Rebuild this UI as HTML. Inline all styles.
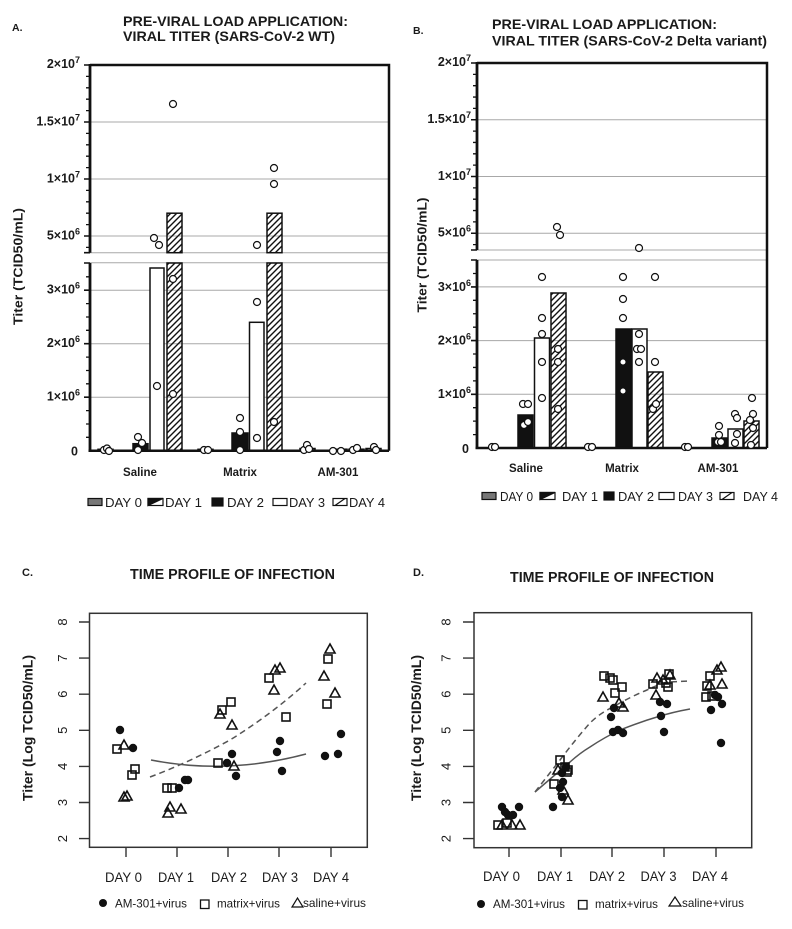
<!DOCTYPE html>
<html><head><meta charset="utf-8"><style>
html,body{margin:0;padding:0;background:#fff}
svg{display:block}
text{font-family:"Liberation Sans",Arial,sans-serif;fill:#1a1a1a}
.b{font-weight:bold}
</style></head><body>
<svg width="792" height="929" viewBox="0 0 792 929" xmlns="http://www.w3.org/2000/svg">
<defs>
<pattern id="h" patternUnits="userSpaceOnUse" width="6" height="6">
<path d="M-1,1 l2,-2 M0,6 l6,-6 M5,7 l2,-2" stroke="#111" stroke-width="1.4"/>
</pattern>
</defs>
<rect width="792" height="929" fill="#fff"/>

<!-- ================= PANEL A ================= -->
<text class="b" x="12" y="31" font-size="10.5">A.</text>
<text class="b" x="123" y="26" font-size="14" textLength="225" lengthAdjust="spacingAndGlyphs">PRE-VIRAL LOAD APPLICATION:</text>
<text class="b" x="123" y="41" font-size="14" textLength="212" lengthAdjust="spacingAndGlyphs">VIRAL TITER (SARS-CoV-2 WT)</text>

<!-- gridlines -->
<g stroke="#a8a8a8" stroke-width="1">
<path d="M90,122H389M90,179H389M90,236H389M90,252.7H389M90,262.8H389M90,397.2H389M90,343.7H389M90,290.2H389"/>
</g>
<!-- bars -->
<g stroke="#111" stroke-width="1.5">
<rect x="98" y="449.3" width="15" height="1.4" fill="#777"/>
<rect x="133" y="443.7" width="15" height="7" fill="#111"/>
<rect x="150" y="268" width="14" height="182.7" fill="#fff"/>
<rect x="167" y="213.2" width="15" height="39.5" fill="url(#h)"/>
<rect x="167" y="263" width="15" height="187.7" fill="url(#h)"/>
<rect x="198" y="449.3" width="15" height="1.4" fill="#777"/>
<rect x="232" y="433" width="16" height="17.7" fill="#111"/>
<rect x="249.5" y="322.3" width="14.5" height="128.4" fill="#fff"/>
<rect x="267" y="213.2" width="15" height="39.5" fill="url(#h)"/>
<rect x="267" y="263" width="15" height="187.7" fill="url(#h)"/>
<rect x="300" y="448.5" width="15" height="2.2" fill="#777"/>
<rect x="332" y="449.2" width="15" height="1.5" fill="#111"/>
<rect x="349" y="449.2" width="15" height="1.5" fill="#fff"/>
<rect x="366" y="448.5" width="15" height="2.2" fill="url(#h)"/>
</g>
<!-- axes -->
<g stroke="#111" fill="none">
<path d="M90,65H389V450.7" stroke-width="2.5"/>
<path d="M88.5,450.7H389" stroke-width="2.5"/>
<path d="M90,64V252.7M90,263V451" stroke-width="2.8"/>
<path d="M84,65H90M84,122H90M84,179H90M84,236H90M84,252.7H90M84,263H90M84,290.2H90M84,343.7H90M84,397.2H90" stroke-width="1.6"/>
<path d="M86,76.4H90M86,87.8H90M86,99.2H90M86,110.6H90M86,133.4H90M86,144.8H90M86,156.2H90M86,167.6H90M86,190.4H90M86,201.8H90M86,213.2H90M86,224.6H90M86,247.4H90M86,437.3H90M86,424H90M86,410.6H90M86,383.8H90M86,370.5H90M86,357.1H90M86,330.3H90M86,317H90M86,303.6H90M86,276.8H90" stroke-width="1.3"/>
</g>
<!-- tick labels -->
<g class="b" font-size="12.5" text-anchor="end" font-weight="bold">
<text x="80" y="68">2×10<tspan dy="-5" font-size="9">7</tspan></text>
<text x="80" y="125.5">1.5×10<tspan dy="-5" font-size="9">7</tspan></text>
<text x="80" y="182.5">1×10<tspan dy="-5" font-size="9">7</tspan></text>
<text x="80" y="239.5">5×10<tspan dy="-5" font-size="9">6</tspan></text>
<text x="80" y="293.5">3×10<tspan dy="-5" font-size="9">6</tspan></text>
<text x="80" y="347">2×10<tspan dy="-5" font-size="9">6</tspan></text>
<text x="80" y="400.5">1×10<tspan dy="-5" font-size="9">6</tspan></text>
<text x="78" y="455.5">0</text>
</g>
<text class="b" transform="translate(22.5,266.5) rotate(-90)" text-anchor="middle" font-size="13" textLength="117" lengthAdjust="spacingAndGlyphs">Titer (TCID50/mL)</text>
<g class="b" font-size="11.5" text-anchor="middle">
<text x="140" y="476">Saline</text>
<text x="240" y="476">Matrix</text>
<text x="338" y="476">AM-301</text>
</g>
<!-- circles -->
<g fill="#fff" stroke="#111" stroke-width="1.2">
<circle cx="104" cy="450" r="3.5"/><circle cx="107" cy="448.5" r="3.5"/><circle cx="109" cy="451" r="3.5"/>
<circle cx="138" cy="437" r="3.5"/><circle cx="142" cy="443" r="3.5"/><circle cx="138" cy="450" r="3.5"/>
<circle cx="157" cy="386" r="3.5"/><circle cx="154" cy="238" r="3.5"/><circle cx="159" cy="245" r="3.5"/>
<circle cx="173" cy="104" r="3.5"/><circle cx="173" cy="279" r="3.5"/><circle cx="173" cy="394" r="3.5"/>
<circle cx="204" cy="450" r="3.5"/><circle cx="208" cy="450" r="3.5"/>
<circle cx="240" cy="418" r="3.5"/><circle cx="240" cy="432" r="3.5"/><circle cx="240" cy="450" r="3.5"/>
<circle cx="257" cy="302" r="3.5"/><circle cx="257" cy="438" r="3.5"/><circle cx="257" cy="245" r="3.5"/>
<circle cx="274" cy="168" r="3.5"/><circle cx="274" cy="184" r="3.5"/><circle cx="274" cy="422" r="3.5"/>
<circle cx="304" cy="450" r="3.5"/><circle cx="307" cy="445" r="3.5"/><circle cx="309" cy="449" r="3.5"/>
<circle cx="333" cy="451" r="3.5"/><circle cx="341" cy="451" r="3.5"/><circle cx="353" cy="450" r="3.5"/>
<circle cx="357" cy="448" r="3.5"/><circle cx="374" cy="447" r="3.5"/><circle cx="376" cy="450" r="3.5"/>
</g>
<!-- legend A -->
<g stroke="#111" stroke-width="1.2">
<rect x="88" y="498.5" width="14" height="7" fill="#777"/>
<rect x="148" y="498.5" width="15" height="7" fill="#fff"/>
<path d="M148,498.5h15l-15,7z" fill="#111"/>
<rect x="212" y="498" width="11" height="8" fill="#111"/>
<rect x="273" y="498.5" width="14" height="7" fill="#fff"/>
<rect x="333" y="498.5" width="14" height="7" fill="#fff"/>
<path d="M335,505.5l10,-7" />
</g>
<g font-size="13">
<text x="105" y="507" textLength="37" lengthAdjust="spacingAndGlyphs">DAY 0</text>
<text x="165" y="507" textLength="37" lengthAdjust="spacingAndGlyphs">DAY 1</text>
<text x="227" y="507" textLength="37" lengthAdjust="spacingAndGlyphs">DAY 2</text>
<text x="289" y="507" textLength="36" lengthAdjust="spacingAndGlyphs">DAY 3</text>
<text x="349" y="507" textLength="36" lengthAdjust="spacingAndGlyphs">DAY 4</text>
</g>

<!-- ================= PANEL B ================= -->
<text class="b" x="413" y="34" font-size="10.5">B.</text>
<text class="b" x="492" y="29" font-size="14" textLength="225" lengthAdjust="spacingAndGlyphs">PRE-VIRAL LOAD APPLICATION:</text>
<text class="b" x="492" y="45.5" font-size="14" textLength="275" lengthAdjust="spacingAndGlyphs">VIRAL TITER (SARS-CoV-2 Delta variant)</text>

<g stroke="#a8a8a8" stroke-width="1">
<path d="M477,119.75H767M477,176.5H767M477,233.25H767M477,250H767M477,260H767M477,394.3H767M477,340.6H767M477,286.9H767"/>
</g>
<g stroke="#111" stroke-width="1.5">
<rect x="518" y="415" width="15" height="33" fill="#111"/>
<rect x="534.5" y="338" width="15" height="110" fill="#fff"/>
<rect x="551" y="293" width="15" height="155" fill="url(#h)"/>
<rect x="616" y="329" width="15" height="119" fill="#111"/>
<rect x="632" y="329" width="15" height="119" fill="#fff"/>
<rect x="648" y="372" width="15" height="76" fill="url(#h)"/>
<rect x="712" y="438" width="15" height="10" fill="#111"/>
<rect x="728" y="429" width="15" height="19" fill="#fff"/>
<rect x="744" y="421" width="15" height="27" fill="url(#h)"/>
</g>
<g stroke="#111" fill="none">
<path d="M477,63H767V448" stroke-width="2.5"/>
<path d="M475.5,448H767" stroke-width="2.5"/>
<path d="M477,62V250M477,260V449" stroke-width="2.8"/>
<path d="M471,63H477M471,119.75H477M471,176.5H477M471,233.25H477M471,250H477M471,260H477M471,286.9H477M471,340.6H477M471,394.3H477" stroke-width="1.6"/>
<path d="M473,74.35H477M473,85.7H477M473,97.05H477M473,108.4H477M473,131.1H477M473,142.45H477M473,153.8H477M473,165.15H477M473,187.85H477M473,199.2H477M473,210.55H477M473,221.9H477M473,244.6H477M473,434.6H477M473,421.15H477M473,407.7H477M473,380.9H477M473,367.45H477M473,354H477M473,327.2H477M473,313.75H477M473,300.3H477M473,273.5H477" stroke-width="1.3"/>
</g>
<g class="b" font-size="12.5" text-anchor="end" font-weight="bold">
<text x="471" y="66">2×10<tspan dy="-5" font-size="9">7</tspan></text>
<text x="471" y="123">1.5×10<tspan dy="-5" font-size="9">7</tspan></text>
<text x="471" y="180">1×10<tspan dy="-5" font-size="9">7</tspan></text>
<text x="471" y="236.5">5×10<tspan dy="-5" font-size="9">6</tspan></text>
<text x="471" y="291">3×10<tspan dy="-5" font-size="9">6</tspan></text>
<text x="471" y="344.5">2×10<tspan dy="-5" font-size="9">6</tspan></text>
<text x="471" y="398">1×10<tspan dy="-5" font-size="9">6</tspan></text>
<text x="469" y="453">0</text>
</g>
<text class="b" transform="translate(426.5,255) rotate(-90)" text-anchor="middle" font-size="13" textLength="115" lengthAdjust="spacingAndGlyphs">Titer (TCID50/mL)</text>
<g class="b" font-size="11.5" text-anchor="middle">
<text x="526" y="472">Saline</text>
<text x="622" y="472">Matrix</text>
<text x="718" y="472">AM-301</text>
</g>
<g fill="#fff" stroke="#111" stroke-width="1.2">
<circle cx="492" cy="447" r="3.5"/><circle cx="495" cy="447" r="3.5"/>
<circle cx="588" cy="447" r="3.5"/><circle cx="592" cy="447" r="3.5"/>
<circle cx="685" cy="447" r="3.5"/><circle cx="688" cy="447" r="3.5"/>
<circle cx="523" cy="404" r="3.5"/><circle cx="528" cy="404" r="3.5"/><circle cx="524" cy="425" r="3.5"/><circle cx="528" cy="422" r="3.5"/>
<circle cx="542" cy="277" r="3.5"/><circle cx="542" cy="318" r="3.5"/><circle cx="542" cy="334" r="3.5"/><circle cx="542" cy="362" r="3.5"/><circle cx="542" cy="398" r="3.5"/>
<circle cx="558" cy="349" r="3.5"/><circle cx="558" cy="362" r="3.5"/><circle cx="558" cy="409" r="3.5"/><circle cx="557" cy="227" r="3.5"/><circle cx="560" cy="235" r="3.5"/>
<circle cx="623" cy="277" r="3.5"/><circle cx="623" cy="299" r="3.5"/><circle cx="623" cy="318" r="3.5"/>
<circle cx="639" cy="334" r="3.5"/><circle cx="637" cy="349" r="3.5"/><circle cx="641" cy="349" r="3.5"/><circle cx="639" cy="362" r="3.5"/><circle cx="639" cy="248" r="3.5"/>
<circle cx="655" cy="277" r="3.5"/><circle cx="655" cy="362" r="3.5"/><circle cx="653" cy="409" r="3.5"/><circle cx="656" cy="404" r="3.5"/>
<circle cx="719" cy="426" r="3.5"/><circle cx="719" cy="435" r="3.5"/><circle cx="718" cy="442" r="3.5"/><circle cx="721" cy="442" r="3.5"/>
<circle cx="735" cy="414" r="3.5"/><circle cx="737" cy="418" r="3.5"/><circle cx="737" cy="434" r="3.5"/><circle cx="735" cy="443" r="3.5"/>
<circle cx="752" cy="398" r="3.5"/><circle cx="753" cy="414" r="3.5"/><circle cx="753" cy="428" r="3.5"/><circle cx="750" cy="420" r="3.5"/><circle cx="751" cy="445" r="3.5"/>
</g>
<g fill="#fff">
<circle cx="623" cy="362" r="2.5"/><circle cx="623" cy="391" r="2.5"/>
</g>
<!-- legend B -->
<g stroke="#111" stroke-width="1.2">
<rect x="482" y="492.5" width="14" height="7" fill="#777"/>
<rect x="540" y="492.5" width="15" height="7" fill="#fff"/>
<path d="M540,492.5h15l-15,7z" fill="#111"/>
<rect x="604" y="492" width="10" height="8" fill="#111"/>
<rect x="659" y="492.5" width="15" height="7" fill="#fff"/>
<rect x="720" y="492.5" width="14" height="7" fill="#fff"/>
<path d="M722,499.5l10,-7"/>
</g>
<g font-size="13">
<text x="500" y="501" textLength="33" lengthAdjust="spacingAndGlyphs">DAY 0</text>
<text x="562" y="501" textLength="36" lengthAdjust="spacingAndGlyphs">DAY 1</text>
<text x="618" y="501" textLength="36" lengthAdjust="spacingAndGlyphs">DAY 2</text>
<text x="678" y="501" textLength="35" lengthAdjust="spacingAndGlyphs">DAY 3</text>
<text x="743" y="501" textLength="35" lengthAdjust="spacingAndGlyphs">DAY 4</text>
</g>

<!-- ================= PANEL C ================= -->
<text class="b" x="22" y="576" font-size="11">C.</text>
<text class="b" x="130" y="579" font-size="14.5" textLength="205" lengthAdjust="spacingAndGlyphs">TIME PROFILE OF INFECTION</text>
<rect x="89.5" y="613.3" width="277.8" height="234" fill="none" stroke="#333" stroke-width="1.5"/>
<g stroke="#333" stroke-width="1.4">
<path d="M79,622H89.5M79,658.1H89.5M79,694.2H89.5M79,730.3H89.5M79,766.4H89.5M79,802.5H89.5M79,838.6H89.5"/>
<path d="M126,847.3V857M177,847.3V857M228,847.3V857M279,847.3V857M331,847.3V857"/>
</g>
<g font-size="13" text-anchor="middle">
<text transform="translate(67,622) rotate(-90)">8</text>
<text transform="translate(67,658.1) rotate(-90)">7</text>
<text transform="translate(67,694.2) rotate(-90)">6</text>
<text transform="translate(67,730.3) rotate(-90)">5</text>
<text transform="translate(67,766.4) rotate(-90)">4</text>
<text transform="translate(67,802.5) rotate(-90)">3</text>
<text transform="translate(67,838.6) rotate(-90)">2</text>
</g>
<text class="b" transform="translate(32.5,728) rotate(-90)" text-anchor="middle" font-size="14" textLength="146" lengthAdjust="spacingAndGlyphs">Titer (Log TCID50/mL)</text>
<g font-size="13.5" text-anchor="middle">
<text x="123.5" y="882" textLength="37" lengthAdjust="spacingAndGlyphs">DAY 0</text>
<text x="176" y="882" textLength="36" lengthAdjust="spacingAndGlyphs">DAY 1</text>
<text x="229" y="882" textLength="36" lengthAdjust="spacingAndGlyphs">DAY 2</text>
<text x="280" y="882" textLength="36" lengthAdjust="spacingAndGlyphs">DAY 3</text>
<text x="331" y="882" textLength="36" lengthAdjust="spacingAndGlyphs">DAY 4</text>
</g>
<!-- curves C -->
<g fill="none" stroke="#555" stroke-width="1.5">
<path d="M150,777 Q190,762 230,740 Q272,714 306,683" stroke-dasharray="6,4"/>
<path d="M151,760 Q227,775 306,754"/>
</g>
<!-- markers C -->
<g fill="#111">
<circle cx="120" cy="730" r="4.2"/><circle cx="133" cy="748" r="4.2"/><circle cx="179" cy="788" r="4.2"/><circle cx="185" cy="780" r="4.2"/><circle cx="188" cy="780" r="4.2"/>
<circle cx="227" cy="763" r="4.2"/><circle cx="232" cy="754" r="4.2"/><circle cx="236" cy="776" r="4.2"/>
<circle cx="280" cy="741" r="4.2"/><circle cx="277" cy="752" r="4.2"/><circle cx="282" cy="771" r="4.2"/>
<circle cx="341" cy="734" r="4.2"/><circle cx="325" cy="756" r="4.2"/><circle cx="338" cy="754" r="4.2"/>
</g>
<g fill="none" stroke="#111" stroke-width="1.6">
<rect x="113" y="745" width="8" height="8"/><rect x="131" y="765" width="8" height="8"/><rect x="128" y="771" width="8" height="8"/>
<rect x="163" y="784" width="8" height="8"/><rect x="168" y="784" width="8" height="8"/>
<rect x="218" y="706" width="8" height="8"/><rect x="227" y="698" width="8" height="8"/><rect x="214" y="759" width="8" height="8"/>
<rect x="265" y="674" width="8" height="8"/><rect x="282" y="713" width="8" height="8"/>
<rect x="324" y="655" width="8" height="8"/><rect x="323" y="700" width="8" height="8"/>
<path d="M119,749h10l-5,-9z M119,801h10l-5,-9z M122,800h10l-5,-9z M165,811h10l-5,-9z M163,817h10l-5,-9z M176,813h10l-5,-9z M215,718h10l-5,-9z M227,729h10l-5,-9z M229,770h10l-5,-9z M270,674h10l-5,-9z M275,672h10l-5,-9z M269,694h10l-5,-9z M325,653h10l-5,-9z M319,680h10l-5,-9z M330,697h10l-5,-9z"/>
</g>
<!-- legend C -->
<circle cx="103" cy="903" r="4" fill="#111"/>
<text x="115" y="907.5" font-size="12" textLength="72" lengthAdjust="spacingAndGlyphs">AM-301+virus</text>
<rect x="200.5" y="900" width="8.5" height="8.5" fill="none" stroke="#111" stroke-width="1.3"/>
<text x="217" y="907.5" font-size="12" textLength="63" lengthAdjust="spacingAndGlyphs">matrix+virus</text>
<path d="M292,907h11l-5.5,-9z" fill="none" stroke="#111" stroke-width="1.2"/>
<text x="303" y="907" font-size="12" textLength="63" lengthAdjust="spacingAndGlyphs">saline+virus</text>

<!-- ================= PANEL D ================= -->
<text class="b" x="413" y="576" font-size="11">D.</text>
<text class="b" x="510" y="582" font-size="14.5" textLength="204" lengthAdjust="spacingAndGlyphs">TIME PROFILE OF INFECTION</text>
<rect x="474" y="612.7" width="277.7" height="235" fill="none" stroke="#333" stroke-width="1.5"/>
<g stroke="#333" stroke-width="1.4">
<path d="M463,622H474M463,658.1H474M463,694.2H474M463,730.3H474M463,766.4H474M463,802.5H474M463,838.6H474"/>
<path d="M509,847.7V857M561,847.7V857M612,847.7V857M664,847.7V857M716,847.7V857"/>
</g>
<g font-size="13" text-anchor="middle">
<text transform="translate(450.5,622) rotate(-90)">8</text>
<text transform="translate(450.5,658.1) rotate(-90)">7</text>
<text transform="translate(450.5,694.2) rotate(-90)">6</text>
<text transform="translate(450.5,730.3) rotate(-90)">5</text>
<text transform="translate(450.5,766.4) rotate(-90)">4</text>
<text transform="translate(450.5,802.5) rotate(-90)">3</text>
<text transform="translate(450.5,838.6) rotate(-90)">2</text>
</g>
<text class="b" transform="translate(421,728) rotate(-90)" text-anchor="middle" font-size="14" textLength="146" lengthAdjust="spacingAndGlyphs">Titer (Log TCID50/mL)</text>
<g font-size="13.5" text-anchor="middle">
<text x="501.5" y="881" textLength="37" lengthAdjust="spacingAndGlyphs">DAY 0</text>
<text x="555" y="881" textLength="36" lengthAdjust="spacingAndGlyphs">DAY 1</text>
<text x="607" y="881" textLength="36" lengthAdjust="spacingAndGlyphs">DAY 2</text>
<text x="658.5" y="881" textLength="36" lengthAdjust="spacingAndGlyphs">DAY 3</text>
<text x="710" y="881" textLength="36" lengthAdjust="spacingAndGlyphs">DAY 4</text>
</g>
<!-- curves D -->
<g fill="none" stroke="#555" stroke-width="1.5" stroke-linejoin="round">
<path d="M535,792 L560,760 Q575,740 590,723 Q600,713 613,707 Q630,697 647,690 Q657,685 667,682 L690,681" stroke-dasharray="6,4"/>
<path d="M535,792 L570,762 Q580,753 590,747 Q605,737 620,730 Q640,722 657,717 Q673,712 690,709"/>
</g>
<!-- markers D -->
<g fill="#111">
<circle cx="502" cy="807" r="4.2"/><circle cx="519" cy="807" r="4.2"/><circle cx="508" cy="815" r="4.2"/><circle cx="513" cy="815" r="4.2"/><circle cx="505" cy="812" r="4.2"/>
<circle cx="562" cy="773" r="4.2"/><circle cx="563" cy="782" r="4.2"/><circle cx="560" cy="788" r="4.2"/><circle cx="562" cy="797" r="4.2"/><circle cx="553" cy="807" r="4.2"/><circle cx="566" cy="767" r="4.2"/>
<circle cx="611" cy="717" r="4.2"/><circle cx="614" cy="708" r="4.2"/><circle cx="613" cy="732" r="4.2"/><circle cx="618" cy="730" r="4.2"/><circle cx="623" cy="733" r="4.2"/>
<circle cx="660" cy="702" r="4.2"/><circle cx="667" cy="704" r="4.2"/><circle cx="661" cy="716" r="4.2"/><circle cx="664" cy="732" r="4.2"/>
<circle cx="715" cy="695" r="4.2"/><circle cx="718" cy="697" r="4.2"/><circle cx="711" cy="710" r="4.2"/><circle cx="722" cy="704" r="4.2"/><circle cx="721" cy="743" r="4.2"/>
</g>
<g fill="none" stroke="#111" stroke-width="1.6">
<rect x="494" y="821" width="8" height="8"/><rect x="503" y="819" width="8" height="8"/>
<rect x="556" y="756" width="8" height="8"/><rect x="561" y="763" width="8" height="8"/><rect x="564" y="766" width="8" height="8"/><rect x="550" y="780" width="8" height="8"/><rect x="563" y="768" width="8" height="8"/>
<rect x="600" y="672" width="8" height="8"/><rect x="606" y="674" width="8" height="8"/><rect x="609" y="676" width="8" height="8"/><rect x="618" y="683" width="8" height="8"/><rect x="611" y="689" width="8" height="8"/>
<rect x="649" y="680" width="8" height="8"/><rect x="662" y="679" width="8" height="8"/><rect x="664" y="683" width="8" height="8"/><rect x="665" y="670" width="8" height="8"/>
<rect x="706" y="672" width="8" height="8"/><rect x="703" y="682" width="8" height="8"/><rect x="702" y="693" width="8" height="8"/><rect x="708" y="692" width="8" height="8"/>
<path d="M497,829h10l-5,-9z M507,829h10l-5,-9z M515,829h10l-5,-9z M553,774h10l-5,-9z M563,804h10l-5,-9z M558,794h10l-5,-9z M598,701h10l-5,-9z M614,707h10l-5,-9z M618,711h10l-5,-9z M652,682h10l-5,-9z M651,699h10l-5,-9z M665,679h10l-5,-9z M658,684h10l-5,-9z M716,671h10l-5,-9z M712,674h10l-5,-9z M717,688h10l-5,-9z M705,689h10l-5,-9z"/>
</g>
<!-- legend D -->
<circle cx="481" cy="904" r="4" fill="#111"/>
<text x="493" y="908" font-size="12" textLength="72" lengthAdjust="spacingAndGlyphs">AM-301+virus</text>
<rect x="578.5" y="900.5" width="8.5" height="8.5" fill="none" stroke="#111" stroke-width="1.3"/>
<text x="595" y="908" font-size="12" textLength="63" lengthAdjust="spacingAndGlyphs">matrix+virus</text>
<path d="M669,906h12l-6,-9z" fill="none" stroke="#111" stroke-width="1.2"/>
<text x="682" y="907" font-size="12" textLength="62" lengthAdjust="spacingAndGlyphs">saline+virus</text>
</svg>
</body></html>
